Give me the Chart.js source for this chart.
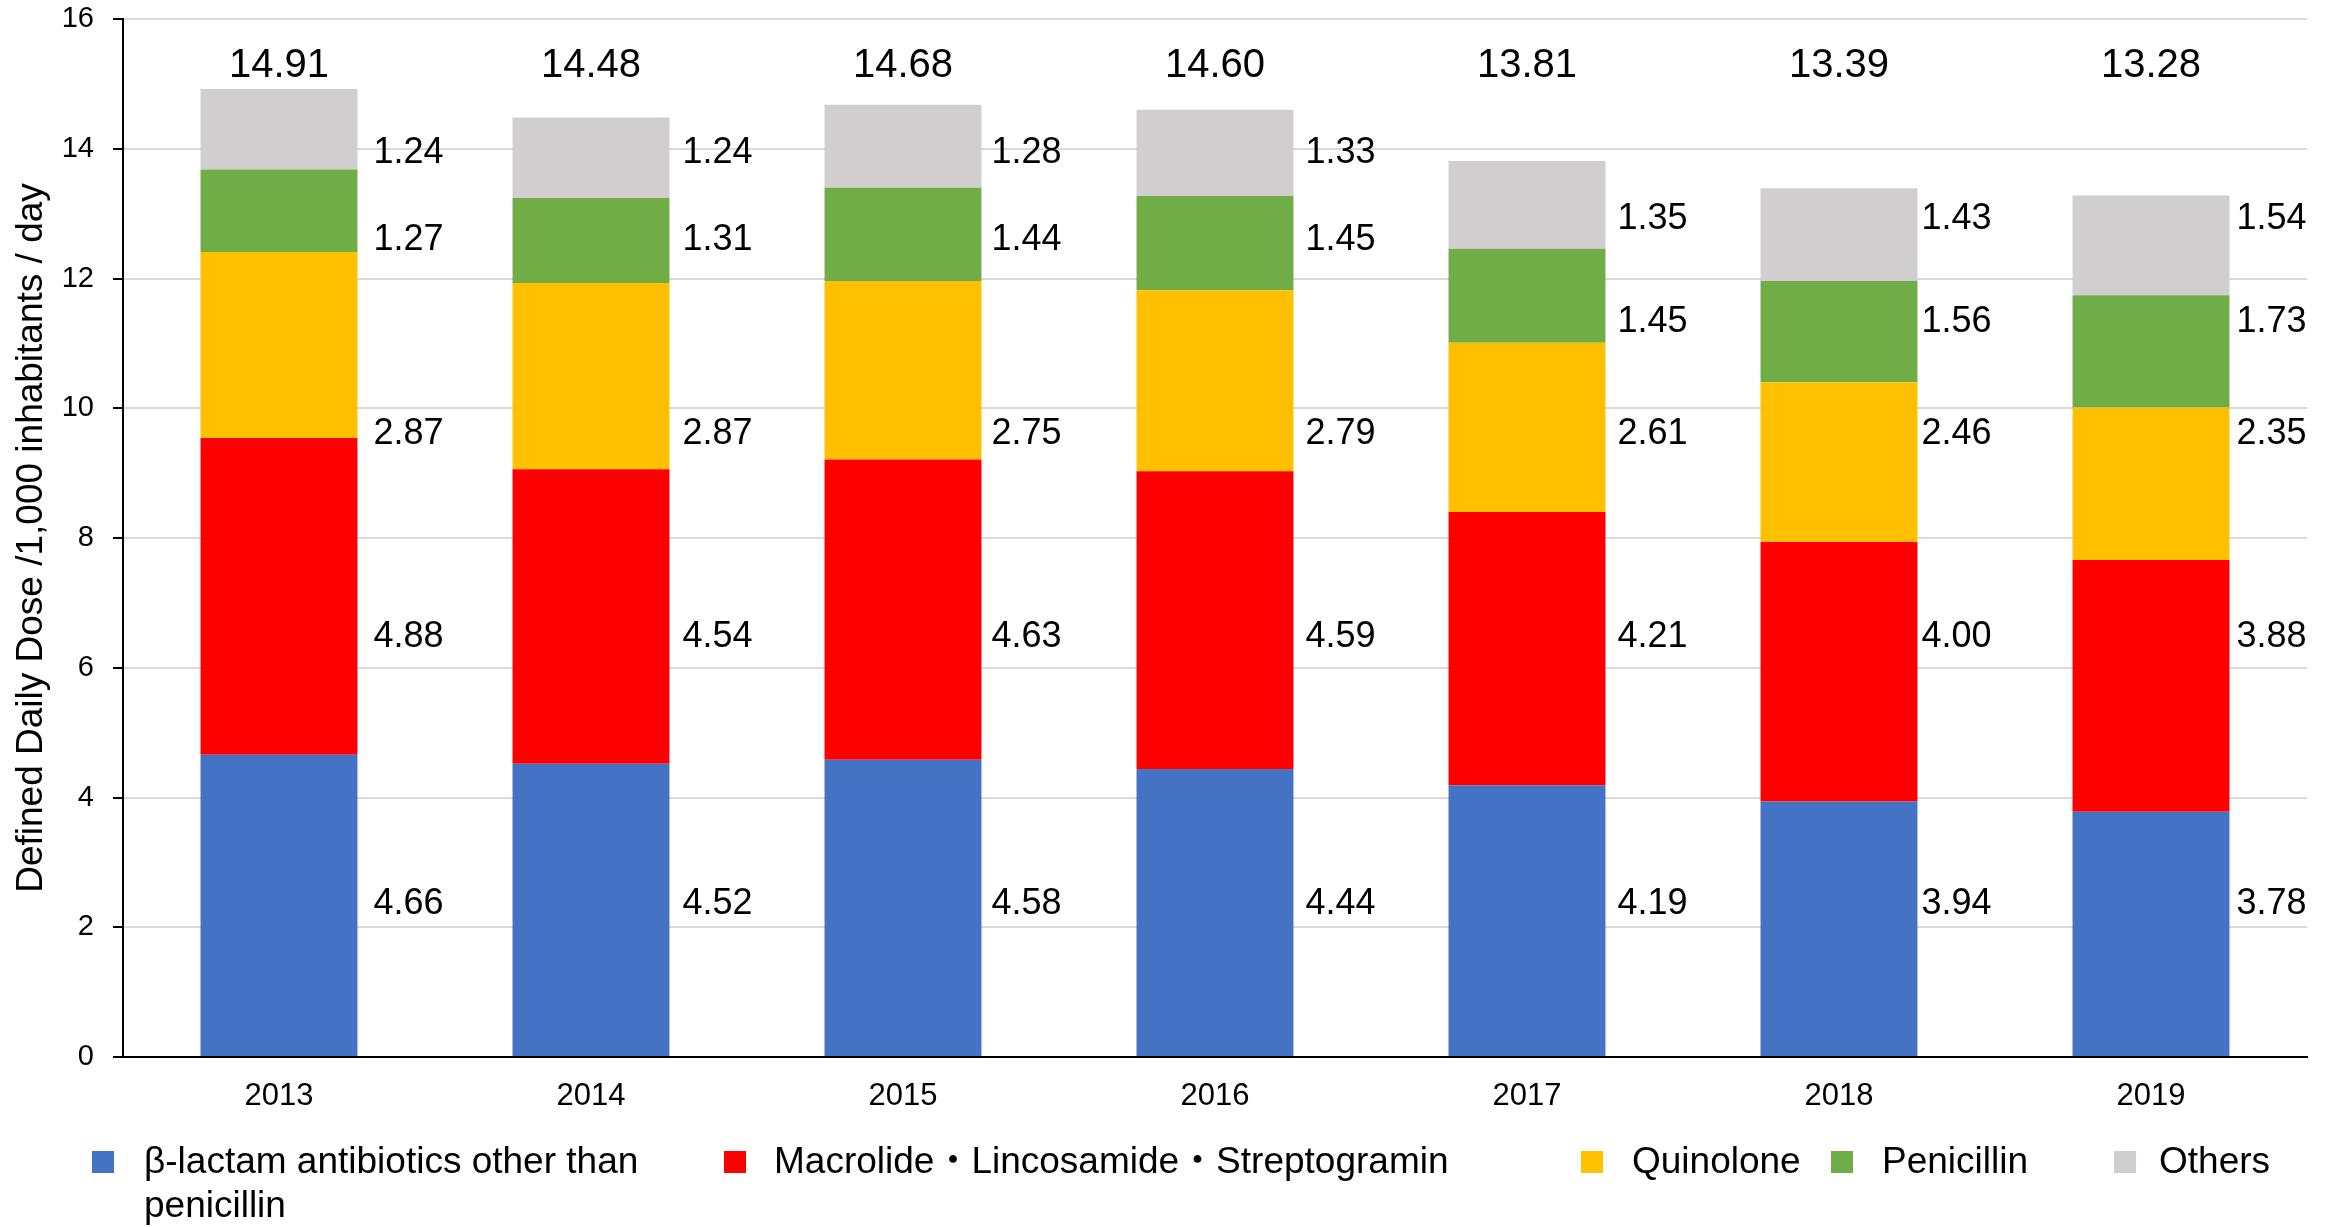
<!DOCTYPE html>
<html>
<head>
<meta charset="utf-8">
<title>Antimicrobial use DDD</title>
<script src="https://cdn.jsdelivr.net/npm/chart.js@4.4.1/dist/chart.umd.min.js"></script>
<style>
    html, body { margin: 0; padding: 0; background: #fff; }
    canvas { display: block; }
</style>
</head>
<body>
<canvas id="myChart" width="2341" height="1227"></canvas>
<script>
var years = ['2013', '2014', '2015', '2016', '2017', '2018', '2019'];

var betaLactam = [4.66, 4.52, 4.58, 4.44, 4.19, 3.94, 3.78];
var macrolide  = [4.88, 4.54, 4.63, 4.59, 4.21, 4.00, 3.88];
var quinolone  = [2.87, 2.87, 2.75, 2.79, 2.61, 2.46, 2.35];
var penicillin = [1.27, 1.31, 1.44, 1.45, 1.45, 1.56, 1.73];
var others     = [1.24, 1.24, 1.28, 1.33, 1.35, 1.43, 1.54];
var totals     = [14.91, 14.48, 14.68, 14.60, 13.81, 13.39, 13.28];

var seriesNames = [
    'β-lactam antibiotics other than penicillin',
    'Macrolide・Lincosamide・Streptogramin',
    'Quinolone',
    'Penicillin',
    'Others'
];
var seriesColors = ['#4472C4', '#FF0000', '#FFC000', '#70AD47', '#D0CECE'];

var FONT = "'Liberation Sans', Arial, 'Noto Sans CJK JP', sans-serif";

// the value labels were hand placed in the original, so keep their height (axis units) here
var labelLevels = [
    [2.41, 2.41, 2.41, 2.41, 2.41, 2.41, 2.41],
    [6.52, 6.52, 6.52, 6.52, 6.52, 6.52, 6.52],
    [9.65, 9.65, 9.65, 9.65, 9.65, 9.65, 9.65],
    [12.64, 12.64, 12.64, 12.64, 11.38, 11.38, 11.38],
    [13.98, 13.98, 13.98, 13.98, 12.97, 12.97, 12.97]
];
var totalLevel = 15.33;
// gap (px) between bar edge and its labels, per year
var labelGap = [16, 13, 10, 12, 12, 4, 7];

// legend layout (Excel style, one row)
var legendBoxX = [92, 724, 1581, 1831, 2114];
var legendTextX = [144, 774, 1632, 1882, 2159];

var valueLabels = {
    id: 'valueLabels',
    afterDatasetsDraw: function (chart) {
        var ctx = chart.ctx;
        var yScale = chart.scales.y;
        ctx.save();
        ctx.fillStyle = '#000';
        // centre the digits (cap height) on the level, not the em box
        ctx.textBaseline = 'alphabetic';
        ctx.textAlign = 'left';
        ctx.font = '36px ' + FONT;
        chart.data.datasets.forEach(function (ds, i) {
            var meta = chart.getDatasetMeta(i);
            meta.data.forEach(function (bar, j) {
                var x = bar.x + bar.width / 2 + labelGap[j];
                var y = yScale.getPixelForValue(labelLevels[i][j]) + 36 * 0.36;
                ctx.fillText(ds.data[j].toFixed(2), x, y);
            });
        });
        // totals on top
        ctx.textAlign = 'center';
        ctx.font = '40px ' + FONT;
        var first = chart.getDatasetMeta(0);
        first.data.forEach(function (bar, j) {
            ctx.fillText(totals[j].toFixed(2), bar.x, yScale.getPixelForValue(totalLevel) + 40 * 0.36);
        });
        ctx.restore();
    }
};

function wrapText(ctx, text, maxWidth) {
    var words = text.split(' ');
    var lines = [];
    var line = '';
    words.forEach(function (w) {
        var test = line ? line + ' ' + w : w;
        if (line && ctx.measureText(test).width > maxWidth) {
            lines.push(line);
            line = w;
        } else {
            line = test;
        }
    });
    if (line) lines.push(line);
    return lines;
}

var bottomLegend = {
    id: 'bottomLegend',
    afterDraw: function (chart) {
        var ctx = chart.ctx;
        var top = chart.chartArea.bottom + 94;
        ctx.save();
        ctx.font = '37px ' + FONT;
        ctx.textBaseline = 'middle';
        ctx.textAlign = 'left';
        chart.data.datasets.forEach(function (ds, i) {
            ctx.fillStyle = ds.backgroundColor;
            ctx.fillRect(legendBoxX[i], top, 22, 22);
            var limit = (i < legendBoxX.length - 1 ? legendBoxX[i + 1] : chart.width) - legendTextX[i] - 20;
            var lines = wrapText(ctx, ds.label, limit);
            ctx.fillStyle = '#000';
            lines.forEach(function (ln, k) {
                ctx.fillText(ln, legendTextX[i], top + 12 + k * 44);
            });
        });
        ctx.restore();
    }
};

var seriesData = [betaLactam, macrolide, quinolone, penicillin, others];

var ctx = document.getElementById('myChart').getContext('2d');
var myChart = new Chart(ctx, {
    type: 'bar',
    data: {
        labels: years,
        datasets: seriesData.map(function (d, i) {
            return {
                label: seriesNames[i],
                data: d,
                backgroundColor: seriesColors[i],
                borderWidth: 0,
                categoryPercentage: 1,
                barPercentage: 0.503
            };
        })
    },
    options: {
        responsive: false,
        animation: false,
        layout: { padding: { left: 0, right: 34, top: 19, bottom: 0 } },
        plugins: {
            legend: { display: false },
            tooltip: { enabled: false }
        },
        scales: {
            x: {
                stacked: true,
                grid: { display: false },
                border: { display: true, color: '#000', width: 2 },
                ticks: {
                    color: '#000',
                    font: { family: FONT, size: 31 },
                    padding: 13,
                    maxRotation: 0
                },
                afterFit: function (s) { s.height = 170; }
            },
            y: {
                stacked: true,
                min: 0,
                max: 16,
                ticks: {
                    stepSize: 2,
                    color: '#000',
                    font: { family: FONT, size: 29 },
                    padding: 19
                },
                grid: {
                    color: '#d9d9d9',
                    lineWidth: 2,
                    tickColor: '#000',
                    tickLength: 10,
                    tickWidth: 2
                },
                border: { color: '#000', width: 2 },
                title: {
                    display: true,
                    text: 'Defined Daily Dose /1,000 inhabitants / day',
                    color: '#000',
                    font: { family: FONT, size: 37 },
                    padding: { top: 10, bottom: 0 }
                },
                afterFit: function (s) {
                    s.width = 123;
                    // tick padding would otherwise push the plot top down
                    s.paddingTop = 0;
                    s.paddingBottom = 0;
                }
            }
        }
    },
    plugins: [valueLabels, bottomLegend]
});
</script>
</body>
</html>
